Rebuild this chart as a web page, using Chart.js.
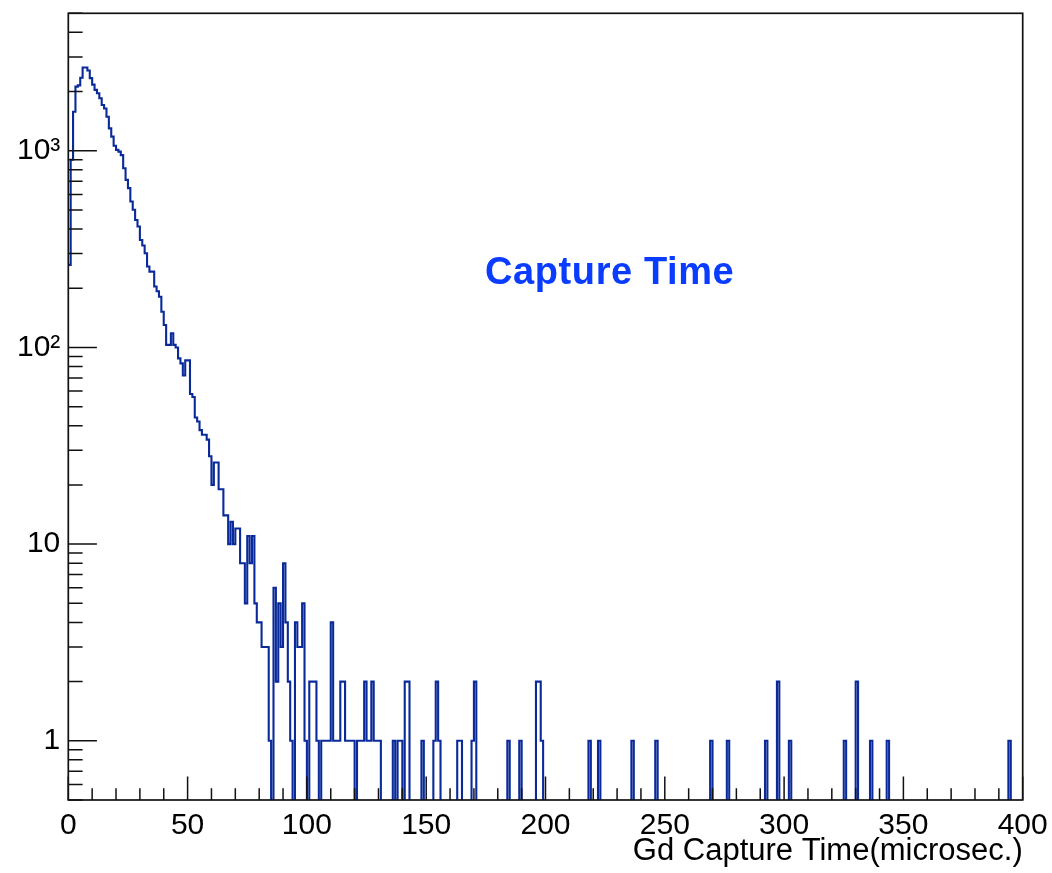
<!DOCTYPE html>
<html>
<head>
<meta charset="utf-8">
<script src="https://cdn.jsdelivr.net/npm/chart.js@4.4.0/dist/chart.umd.min.js"></script>
<style>
  html, body { margin: 0; padding: 0; background: #ffffff; }
  #wrap { width: 1052px; height: 873px; }
</style>
</head>
<body>
<div id="wrap"><canvas id="c" width="1052" height="873"></canvas></div>
<script>
// ---- data (counts per 1 microsecond bin) ----
// bins 0..130 (main decay region)
const peakCounts = [
  263, 900, 1580, 2120, 2150, 2350, 2650, 2650, 2560, 2340,
  2170, 2040, 1960, 1850, 1710, 1640, 1490, 1300, 1180, 1060,
  1010, 990, 950, 815, 711, 646, 552, 501, 445, 412,
  352, 330, 301, 258, 243, 243, 204, 193, 181, 152,
  130, 103, 103, 118, 103, 100, 88, 83, 72, 86,
  86, 58, 56, 44, 42, 38, 36, 36, 34, 28,
  20, 26, 26, 19, 19, 14, 14, 10, 13, 10,
  12, 12, 8, 8, 5, 11, 8, 11, 5, 4,
  4, 3, 3, 3, 1, 0, 6, 2, 5, 3,
  8, 4, 2, 1, 0, 4, 3, 3, 5, 1,
  0, 2, 2, 2, 1, 0, 1, 1, 1, 1,
  4, 1, 1, 1, 2, 2, 1, 1, 1, 1,
  0, 1, 1, 1, 2, 1, 1, 2, 1, 1,
  1
];
// sparse tail: bin index (lower edge, microsec.) and count
const tailBins   = [136, 138, 139, 141, 142, 148, 153, 154, 155, 163, 164, 169, 170, 184, 189, 196, 197, 198, 218, 222, 236, 246, 269, 276, 292, 297, 302, 325, 330, 336, 343, 394];
const tailCounts = [  1,   1,   1,   2,   2,   1,   1,   2,   1,   1,   1,   1,   2,   1,   1,   2,   2,   1,   1,   1,   1,   1,   1,   1,   1,   2,   1,   1,   2,   1,   1,   1];
const nBins = 400;
const xTickValues = [0, 50, 100, 150, 200, 250, 300, 350, 400];
const yTickValues = [1, 10, 100, 1000];
const yTickLabels = ['1', '10', '10\u00B2', '10\u00B3'];
const xTitle = 'Gd Capture Time(microsec.)';
const histTitle = 'Capture Time';

// ---- build the histogram table ----
const counts = new Array(nBins).fill(0);
peakCounts.forEach((c, i) => { counts[i] = c; });
tailBins.forEach((b, i) => { counts[b] = tailCounts[i]; });
const FLOOR = 0.05; // empty bins drop below the visible range (clipped)
const points = counts.map((c, i) => ({ x: i, y: c > 0 ? c : FLOOR }));
points.push({ x: nBins, y: counts[nBins - 1] > 0 ? counts[nBins - 1] : FLOOR });

const FONT = "'Liberation Sans', Arial, Helvetica, sans-serif";
Chart.defaults.font.family = FONT;

const noOverhang = (s) => { s.paddingTop = 0; s.paddingBottom = 0; s.paddingLeft = 0; s.paddingRight = 0; };

const framePlugin = {
  id: 'rootFrame',
  beforeDraw(chart) {
    const ctx = chart.ctx;
    ctx.save();
    ctx.fillStyle = '#ffffff';
    ctx.fillRect(0, 0, chart.width, chart.height);
    ctx.restore();
  },
  afterDatasetsDraw(chart) {
    const { ctx, chartArea: a, scales } = chart;
    const xs = scales.x, ys = scales.y;
    ctx.save();
    ctx.strokeStyle = '#111111';
    ctx.lineWidth = 1.7;
    ctx.strokeRect(a.left, a.top, a.right - a.left, a.bottom - a.top);
    ctx.lineWidth = 1.5;
    ctx.beginPath();
    // x ticks (major every 50, minor every 10), drawn inward
    for (let v = 0; v <= 400; v += 10) {
      const px = xs.getPixelForValue(v);
      const len = (v % 50 === 0) ? 23.6 : 11.8;
      ctx.moveTo(px, a.bottom);
      ctx.lineTo(px, a.bottom - len);
    }
    // y ticks (log: decades major, 2..9 minor), drawn inward
    for (let d = -1; d <= 3; d++) {
      for (let m = 1; m <= 9; m++) {
        const v = m * Math.pow(10, d);
        if (v < ys.min - 1e-9 || v > ys.max + 1e-9) continue;
        const py = ys.getPixelForValue(v);
        const len = (m === 1) ? 28.6 : 14.3;
        ctx.moveTo(a.left, py);
        ctx.lineTo(a.left + len, py);
      }
    }
    ctx.stroke();
    // histogram title text
    ctx.fillStyle = '#0a3cff';
    ctx.font = "bold 38px " + FONT;
    ctx.textAlign = 'left';
    ctx.textBaseline = 'alphabetic';
    try { ctx.letterSpacing = '0.6px'; } catch (e) {}
    ctx.fillText(histTitle, 485, 284);
    ctx.restore();
  }
};

new Chart(document.getElementById('c'), {
  type: 'line',
  data: {
    datasets: [{
      label: histTitle,
      data: points,
      stepped: 'before',
      borderColor: '#0a2a9a',
      borderWidth: 2.1,
      borderJoinStyle: 'miter',
      pointRadius: 0,
      fill: false,
      tension: 0,
      clip: 0
    }]
  },
  options: {
    responsive: false,
    animation: false,
    layout: { padding: { left: 0, right: 29.3, top: 13.3, bottom: 0 } },
    plugins: {
      legend: { display: false },
      tooltip: { enabled: false },
      title: { display: false }
    },
    scales: {
      x: {
        type: 'linear',
        min: 0,
        max: 400,
        afterBuildTicks: (s) => { s.ticks = xTickValues.map(v => ({ value: v })); },
        afterFit: (s) => { s.height = 73; noOverhang(s); },
        grid: { display: false, drawTicks: false },
        border: { display: false },
        ticks: {
          autoSkip: false,
          maxRotation: 0,
          padding: 8,
          color: '#000000',
          font: { size: 30 },
          callback: (v) => String(v)
        },
        title: {
          display: true,
          text: xTitle,
          align: 'end',
          color: '#000000',
          font: { size: 31 },
          padding: { top: 0, bottom: 3 }
        }
      },
      y: {
        type: 'logarithmic',
        min: 0.5,
        max: 5000,
        afterBuildTicks: (s) => { s.ticks = yTickValues.map(v => ({ value: v })); },
        afterFit: (s) => { s.width = 68.3; noOverhang(s); },
        grid: { display: false, drawTicks: false },
        border: { display: false },
        ticks: {
          autoSkip: false,
          padding: 8,
          color: '#000000',
          font: { size: 30 },
          callback: (v) => {
            const i = yTickValues.indexOf(v);
            return i >= 0 ? yTickLabels[i] : '';
          }
        }
      }
    }
  },
  plugins: [framePlugin]
});
</script>
</body>
</html>
